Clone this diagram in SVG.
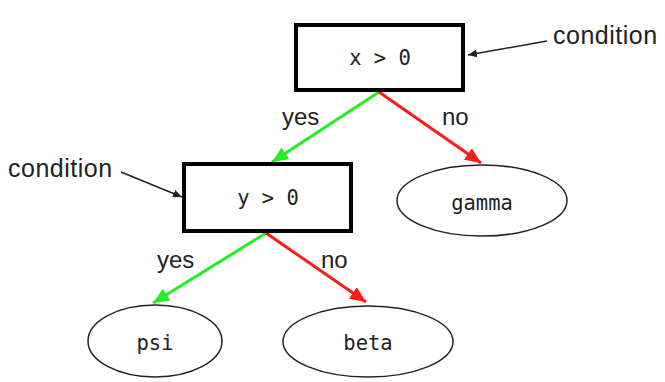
<svg xmlns="http://www.w3.org/2000/svg" width="665" height="382" viewBox="0 0 665 382">
<defs>
<style>
.box{fill:#fff;stroke:#000;stroke-width:4}
.leaf{fill:#fff;stroke:#222;stroke-width:1.5}
.mono{font-family:"DejaVu Sans Mono","Liberation Mono",monospace;font-size:20.5px;fill:#222;text-anchor:middle}
.lbl{font-family:"Liberation Sans",Arial,sans-serif;font-size:24px;fill:#222}
.cond{font-size:25px;letter-spacing:0.5px}
.yes{stroke:#22ee22;stroke-width:3;fill:none}
.no{stroke:#ff1a1a;stroke-width:3;fill:none}
.ann{stroke:#222;stroke-width:1.5;fill:none}
</style>
<marker id="ag" markerUnits="userSpaceOnUse" markerWidth="16" markerHeight="14" refX="16" refY="7" orient="auto"><path d="M0,0 L16,7 L0,14 z" fill="#22ee22"/></marker>
<marker id="ar" markerUnits="userSpaceOnUse" markerWidth="16" markerHeight="14" refX="16" refY="7" orient="auto"><path d="M0,0 L16,7 L0,14 z" fill="#ff1a1a"/></marker>
<marker id="ak" markerUnits="userSpaceOnUse" markerWidth="9" markerHeight="8" refX="9" refY="4" orient="auto"><path d="M0,0 L9,4 L0,8 z" fill="#222"/></marker>
</defs>
<g id="connectors">
<line class="yes" x1="379" y1="92" x2="272" y2="162" marker-end="url(#ag)"/>
<line class="no" x1="379" y1="92" x2="481" y2="163" marker-end="url(#ar)"/>
<line class="yes" x1="266" y1="233" x2="153" y2="303" marker-end="url(#ag)"/>
<line class="no" x1="266" y1="233" x2="366" y2="302" marker-end="url(#ar)"/>
<line class="ann" x1="547" y1="41" x2="468" y2="55" marker-end="url(#ak)"/>
<line class="ann" x1="121" y1="172" x2="182" y2="197" marker-end="url(#ak)"/>
<text class="lbl" x="282" y="125">yes</text>
<text class="lbl" x="442" y="125">no</text>
<text class="lbl" x="157" y="268">yes</text>
<text class="lbl" x="321" y="268">no</text>
</g>
<g id="node-x">
<rect class="box" x="296" y="25" width="167" height="65"/>
<text class="mono" x="380" y="65">x &gt; 0</text>
</g>
<g id="node-y">
<rect class="box" x="184" y="164" width="167" height="67"/>
<text class="mono" x="268" y="205">y &gt; 0</text>
</g>
<g id="node-gamma">
<ellipse class="leaf" cx="482" cy="200.5" rx="85" ry="35.5"/>
<text class="mono" x="482" y="210">gamma</text>
</g>
<g id="node-psi">
<ellipse class="leaf" cx="155" cy="341" rx="67" ry="36"/>
<text class="mono" x="155" y="350">psi</text>
</g>
<g id="node-beta">
<ellipse class="leaf" cx="368" cy="341.5" rx="85" ry="35.5"/>
<text class="mono" x="368" y="350">beta</text>
</g>
<g id="annotations">
<text class="lbl cond" x="553" y="44">condition</text>
<text class="lbl cond" x="8" y="177">condition</text>
</g>
</svg>
